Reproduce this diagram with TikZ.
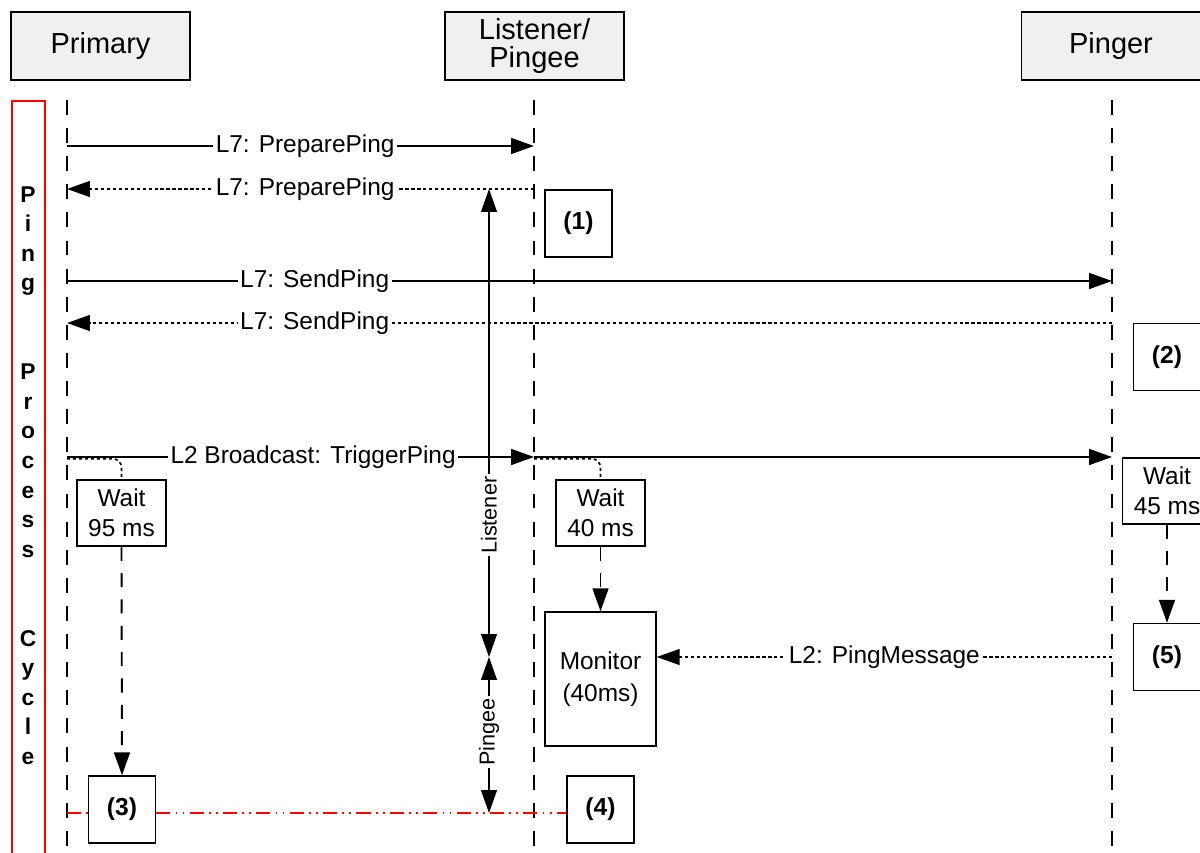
\documentclass[tikz,border=0pt]{standalone}
\usepackage{fontspec}
\setmainfont{Liberation Sans}
\usetikzlibrary{arrows.meta}

\tikzset{
  lane/.style={draw, line width=1.1pt, fill=gray!12, minimum width=3.58cm,
    minimum height=1.36cm, align=center, inner sep=0pt,
    font=\fontsize{16.5}{16}\selectfont},
  lifeline/.style={line width=1.1pt, dash pattern=on 8.5pt off 7.5pt},
  stepbox/.style={draw, line width=0.8pt, fill=white, minimum size=1.34cm,
    font=\fontsize{14}{17}\bfseries},
  waitbox/.style={draw, line width=0.8pt, fill=white, minimum width=1.78cm,
    minimum height=1.32cm, align=center, inner sep=0pt,
    font=\fontsize{13.9}{17}\selectfont},
  tip/.style={-{Triangle[length=13pt,width=9pt]}},
  msg/.style={line width=1.1pt, tip},
  reply/.style={line width=0.9pt, dash pattern=on 1.8pt off 1.6pt, tip},
  delay/.style={line width=1.1pt, dash pattern=on 8pt off 7pt, tip},
  lbl/.style={fill=white, inner sep=1.5pt, font=\fontsize{13.9}{17}\selectfont},
}

\begin{document}
\begin{tikzpicture}[x=0.02cm, y=-0.02cm]
  \useasboundingbox (0,0) rectangle (1200,852);
  \clip (0,0) rectangle (1200,852);

  % lanes and lifelines
  \node[lane] (primary) at (100.5,46) {Primary};
  \node[lane] (listener) at (534.5,46) {Listener/\\Pingee};
  \node[lane] (pinger) at (1111,46) {Pinger};
  \foreach \n/\x in {pri/67,lis/534,pin/1112} {
    \coordinate (\n top) at (\x,100);
    \coordinate (\n end) at (\x,870);
    \draw[lifeline] (\n top) -- (\n end);
    \foreach \r/\y in {a/146,b/189,c/281,d/323,e/457,f/657,g/813}
      \coordinate (\n\r) at (\x,\y);
  }

  % cycle frame
  \draw[red, line width=1.2pt] (12,101) rectangle (45,880);
  \foreach \ch/\k in {P/0,i/1,n/2,g/3,P/6,r/7,o/8,c/9,e/10,s/11,s/12,
                      C/15,y/16,c/17,l/18,e/19}
    \node[anchor=base, inner sep=0pt, font=\fontsize{13}{15}\bfseries]
      (cyc\k) at (28,{202+29.6*\k}) {\ch};

  % boxes
  \node[stepbox] (step1) at (578.5,223.5) {(1)};
  \node[stepbox] (step2) at (1167,357) {(2)};
  \node[stepbox] (step3) at (122,809.5) {(3)};
  \node[stepbox] (step4) at (600.5,809.5) {(4)};
  \node[stepbox] (step5) at (1167,657) {(5)};
  \node[waitbox] (wait95) at (121.5,513) {Wait\\95 ms};
  \node[waitbox] (wait40) at (600.5,513) {Wait\\40 ms};
  \node[waitbox] (wait45) at (1167,491) {Wait\\45 ms};
  \node[draw, line width=0.8pt, minimum width=2.22cm, minimum height=2.68cm,
    align=center, inner sep=0pt, font=\fontsize{13.9}{18}\selectfont]
    (monitor) at (600.5,679) {Monitor\\(40ms)};

  % end of cycle
  \draw[red, line width=0.9pt,
    dash pattern=on 8pt off 3pt on 1pt off 3pt on 1pt off 3pt]
    (prig) -- (step3.west |- prig) (step3.east |- prig) -- (step4.west |- prig);

  % messages
  \draw[msg] (pria) -- node[lbl, pos=0.51] {L7: PreparePing} (lisa);
  \draw[reply] (lisb) -- node[lbl, pos=0.49] {L7: PreparePing} (prib);
  \draw[msg] (pric) -- node[lbl, pos=0.237] {L7: SendPing} (pinc);
  \draw[reply] (pind) -- node[lbl, pos=0.763] {L7: SendPing} (prid);
  \draw[reply, -, rounded corners=5pt] ([yshift=-1pt]prie) -| (wait95.north);
  \draw[reply, -, rounded corners=5pt] ([yshift=-1pt]lise) -| (wait40.north);
  \draw[msg] (prie) -- node[lbl, pos=0.527] {L2 Broadcast: TriggerPing} (lise);
  \draw[msg] (lise) -- (pine);
  \draw[reply] (pinf) -- node[lbl, pos=0.5] {L2: PingMessage} (monitor.east |- pinf);

  % waits
  \draw[delay] (wait95.south) -- (step3.north);
  \draw[delay] (wait40.south) -- (monitor.north);
  \draw[delay] (wait45.south) -- (step5.north);

  % roles
  \coordinate (span top) at (489,189);
  \coordinate (span mid) at (489,657);
  \coordinate (span end) at (489,813);
  \draw[line width=0.8pt, {Triangle[length=13pt,width=9pt]}-{Triangle[length=13pt,width=9pt]}]
    (span top) -- node[lbl, rotate=90, pos=0.697, font=\fontsize{12.3}{15}\selectfont] {Listener} (span mid);
  \draw[line width=0.8pt, {Triangle[length=13pt,width=9pt]}-{Triangle[length=13pt,width=9pt]}]
    (span mid) -- node[lbl, rotate=90, pos=0.48, font=\fontsize{12.3}{15}\selectfont] {Pingee} (span end);
\end{tikzpicture}
\end{document}
